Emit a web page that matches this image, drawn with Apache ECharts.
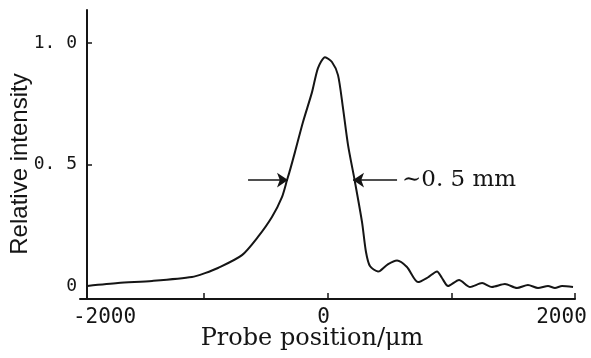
<!DOCTYPE html>
<html>
<head>
<meta charset="utf-8">
<script src="https://cdn.jsdelivr.net/npm/echarts@6/dist/echarts.min.js"></script>
<style>
html,body{margin:0;padding:0;background:#fff;}
#chart{width:591px;height:358px;}
</style>
</head>
<body>
<div id="chart"></div>
<script>
// Probe position (µm)
const positions = [-1940, -1693, -1418, -1095, -990, -885, -691, -562, -449, -368, -327, -303, -263, -198, -125, -77, -20, 36, 85, 125, 166, 222, 279, 311, 343, 408, 424, 490, 562, 642, 731, 810, 885, 925, 974, 1063, 1152, 1249, 1329, 1434, 1531, 1620, 1701, 1782, 1838, 1895, 1984];
// Relative intensity
const intensity = [0.0, 0.012, 0.021, 0.037, 0.053, 0.074, 0.127, 0.202, 0.284, 0.366, 0.436, 0.477, 0.551, 0.675, 0.798, 0.897, 0.942, 0.922, 0.868, 0.733, 0.580, 0.428, 0.263, 0.140, 0.082, 0.060, 0.062, 0.090, 0.105, 0.078, 0.016, 0.035, 0.060, 0.033, 0.0, 0.025, -0.004, 0.012, -0.004, 0.008, -0.008, 0.004, -0.008, 0.0, -0.008, 0.0, -0.004];

const xTickValues = [-1000, 0, 1000, 2000];
const xLabelValues = [-2000, 0, 2000];
const yTickValues = [0.5, 1.0];
const yLabelValues = [0, 0.5, 1.0];

// FWHM arrows annotation: [fromX, toX, y]
const leftArrow = [-642, -319, 0.436];
const rightArrow = [562, 206, 0.436];
const annotationText = '\u223c0. 5 mm';

const xTitle = 'Probe position/\u03bcm';
const yTitle = 'Relative intensity';

const ink = '#151515';
const monoFont = '"DejaVu Sans Mono", "Liberation Mono", monospace';
const serifFont = '"DejaVu Serif", "Liberation Serif", serif';
const sansFont = '"Liberation Sans", Arial, sans-serif';

const chart = echarts.init(document.getElementById('chart'), null, {renderer: 'canvas'});
chart.setOption({
  animation: false,
  backgroundColor: '#ffffff',
  grid: {left: 80, right: 16, top: 10, bottom: 59, containLabel: false, outerBoundsMode: 'none'},
  xAxis: {
    type: 'value',
    min: -2000, max: 2000,
    splitLine: {show: false},
    axisLine: {show: true, onZero: false, lineStyle: {color: ink, width: 2}},
    axisTick: {show: true, inside: true, length: 6, lineStyle: {color: ink, width: 1.5}, customValues: xTickValues},
    axisLabel: {
      show: true, customValues: xLabelValues, margin: 8,
      color: ink, fontFamily: monoFont, fontSize: 21,
      formatter: function (v) {
        if (v === -2000) return '{l|-2000}';
        if (v === 2000) return '{r|2000}';
        return '{c|' + v + '}';
      },
      rich: {
        l: {fontFamily: monoFont, fontSize: 21, color: ink, padding: [0, 0, 0, 49]},
        r: {fontFamily: monoFont, fontSize: 21, color: ink, padding: [0, 27, 0, 0]},
        c: {fontFamily: monoFont, fontSize: 21, color: ink, padding: [0, 8, 0, 0]}
      }
    },
    name: xTitle,
    nameLocation: 'middle',
    nameMoveOverlap: false,
    nameGap: 28,
    nameTextStyle: {fontFamily: serifFont, fontSize: 24, color: ink, padding: [0, 31, 0, 0]}
  },
  yAxis: {
    type: 'value',
    min: -0.0535, max: 1.136,
    offset: -7,
    splitLine: {show: false},
    axisLine: {show: true, onZero: false, lineStyle: {color: ink, width: 2}},
    axisTick: {show: true, inside: true, length: 5, lineStyle: {color: ink, width: 1.5}, customValues: yTickValues},
    axisLabel: {
      show: true, customValues: yLabelValues, margin: 10,
      color: ink, fontFamily: monoFont, fontSize: 18,
      formatter: function (v) { return v === 0 ? '0' : v.toFixed(1).replace('.', '. '); }
    },
    name: yTitle,
    nameLocation: 'middle',
    nameMoveOverlap: false,
    nameRotate: 90,
    nameGap: 55,
    nameTextStyle: {fontFamily: sansFont, fontSize: 24, color: ink, padding: [0, 19, 0, 0]}
  },
  series: [{
    type: 'line',
    data: positions.map((x, i) => [x, intensity[i]]),
    showSymbol: false,
    smooth: 0.25,
    lineStyle: {color: ink, width: 2},
    silent: true,
    markLine: {
      silent: true,
      symbol: ['none', 'arrow'],
      symbolSize: 11,
      lineStyle: {color: ink, width: 1.6, type: 'solid'},
      label: {show: false},
      data: [
        [{coord: [leftArrow[0], leftArrow[2]]}, {coord: [leftArrow[1], leftArrow[2]]}],
        [{coord: [rightArrow[0], rightArrow[2]],
          label: {show: true, position: 'start', formatter: annotationText, fontFamily: serifFont, fontSize: 23, color: ink, distance: 5}},
         {coord: [rightArrow[1], rightArrow[2]]}]
      ]
    }
  }]
});
</script>
</body>
</html>
